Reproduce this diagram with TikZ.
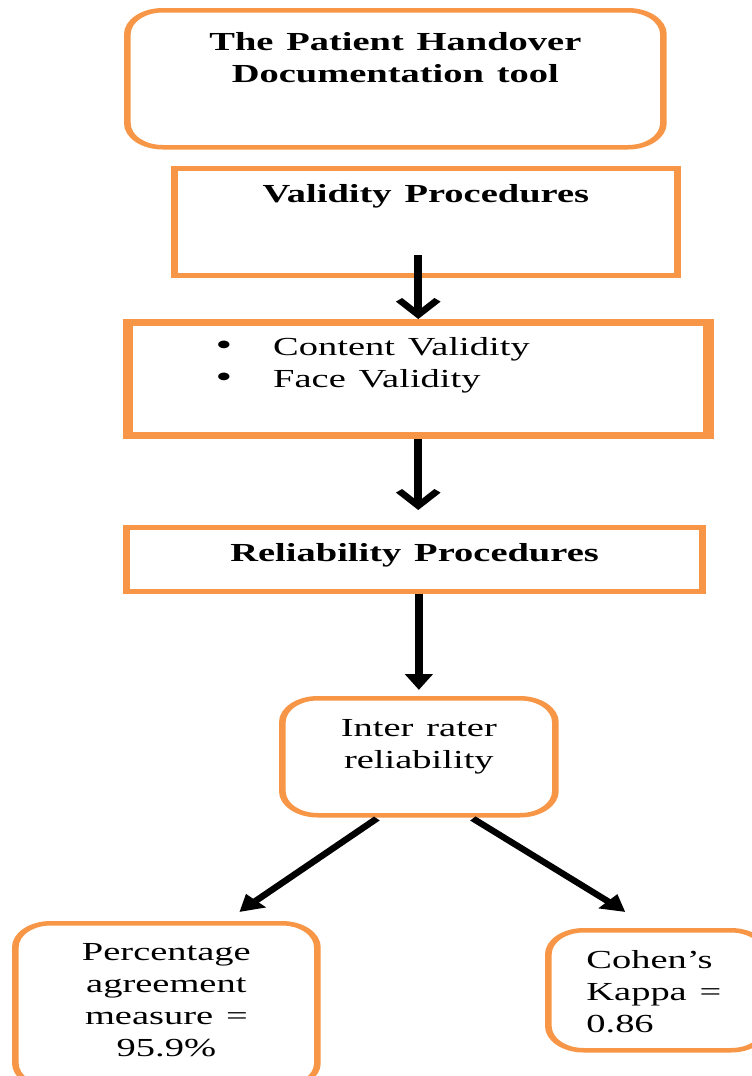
\documentclass[tikz,border=0pt]{standalone}
\usepackage{fontspec}
\setmainfont{Liberation Serif}
\usetikzlibrary{arrows.meta,calc}
\definecolor{boxorange}{RGB}{247,150,70}

\begin{document}
\begin{tikzpicture}[x=0.6757pt, y=-1pt, every node/.style={font=\fontsize{26}{32}\selectfont}]
    \tikzstyle{roundbox} = [rectangle, draw=boxorange, line width=4.5pt, rounded corners=24pt, inner sep=0pt, anchor=north west]
    \tikzstyle{sqbox} = [rectangle, draw=boxorange, line width=4.5pt, inner sep=0pt, anchor=north west]
    \tikzstyle{head} = [font=\fontsize{26}{32}\selectfont\bfseries]
    \tikzstyle{barb} = [line width=5.5pt, -{Straight Barb[length=15pt, width=26pt]}]
    \tikzstyle{tri} = [line width=5.5pt, -{Triangle[length=16pt, width=18pt]}]
    \fill[white] (0pt,0pt) rectangle (752pt,-1076pt);
    \useasboundingbox (0pt,0pt) rectangle (752pt,-1076pt);
    \clip (0pt,0pt) rectangle (752pt,-1076pt);
    % the whole figure is stretched sideways
    \begin{scope}[transform canvas={xscale=1.48}]
    \node (tool) [roundbox, head, align=center, text width=362.2pt, text height=40pt, text depth=97pt] at (124,8) {The Patient Handover\\Documentation tool};
    \node (valid) [sqbox, head, align=center, text width=339.9pt, text height=34pt, text depth=73pt] at (171,166) {Validity Procedures};
    \node (bullets) [sqbox, line width=7pt, align=left, text width=392pt, text height=33pt, text depth=80pt] at (123,319) {\hspace*{59pt}\makebox[39pt][l]{\fontsize{32}{32}\selectfont\textbullet}Content Validity\\\hspace*{59pt}\makebox[39pt][l]{\fontsize{32}{32}\selectfont\textbullet}Face Validity};
    \node (relia) [sqbox, head, align=center, text width=389.5pt, text height=34pt, text depth=30pt] at (123,525) {Reliability Procedures};
    \node (inter) [roundbox, align=center, text width=184.5pt, text height=38pt, text depth=79pt] at (279,696) {Inter rater\\reliability};
    \node (perc) [roundbox, align=center, text width=204.1pt, text height=37pt, text depth=127pt] at (12,921) {Percentage\\agreement\\measure =\\95.9\%};
    \node (kappa) [roundbox, align=left, text width=147.3pt, text height=38pt, text depth=82pt] at (545,928) {\hspace*{25.7pt}Cohen’s\\\hspace*{25.7pt}Kappa =\\\hspace*{25.7pt}0.86};

    \draw [barb] ($(bullets.north)+(0,-64)$) -- (bullets.north);
    \draw [barb] (bullets.south) -- ($(bullets.south |- relia.north)+(0,-15)$);
    \draw [tri] (relia.south -| inter.north) -- ($(inter.north)+(0,-6)$);
    \draw [tri] ($(inter.south)+(-42,1)$) -- ($(perc.north)+(73,-9)$);
    \draw [tri] ($(inter.south)+(54,1)$) -- ($(kappa.north)+(-32,-16)$);
    \end{scope}
\end{tikzpicture}
\end{document}
